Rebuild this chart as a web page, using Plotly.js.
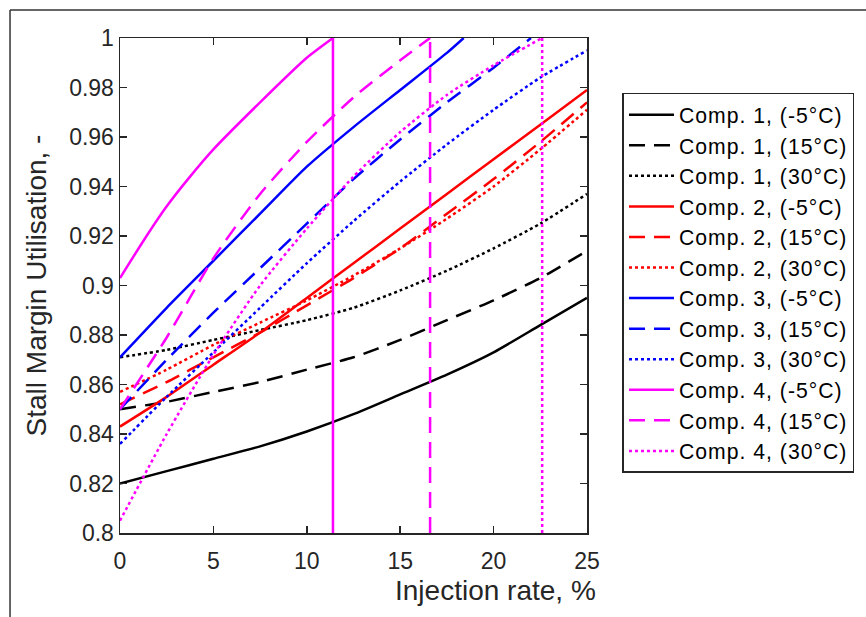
<!DOCTYPE html>
<html>
<head>
<meta charset="utf-8">
<script src="https://cdn.plot.ly/plotly-3.0.1.min.js"></script>
<style>html,body{margin:0;padding:0;background:#fff;}#chart{width:866px;height:617px;}</style>
</head>
<body>
<div id="chart"></div>
<script>
// ---- data ----
var xGrid = [0, 2.5, 5, 7.5, 10, 12.5, 15, 17.5, 20, 22.5, 25];

var comp1_m5  = [0.820, 0.825, 0.830, 0.835, 0.841, 0.848, 0.856, 0.864, 0.873, 0.884, 0.895];
var comp1_p15 = [0.850, 0.853, 0.857, 0.861, 0.866, 0.871, 0.878, 0.886, 0.894, 0.903, 0.914];
var comp1_p30 = [0.871, 0.874, 0.878, 0.882, 0.886, 0.891, 0.898, 0.906, 0.915, 0.925, 0.937];

var comp2_m5  = [0.843, 0.855, 0.868, 0.881, 0.895, 0.909, 0.923, 0.937, 0.951, 0.965, 0.979];
var comp2_p15 = [0.852, 0.861, 0.871, 0.881, 0.892, 0.903, 0.915, 0.929, 0.943, 0.958, 0.974];
var comp2_p30 = [0.857, 0.866, 0.876, 0.885, 0.894, 0.904, 0.915, 0.927, 0.940, 0.955, 0.971];

var comp3_m5_x  = [0, 2.5, 5, 7.5, 10, 12.5, 15, 17.5, 18.4];
var comp3_m5    = [0.871, 0.891, 0.910, 0.929, 0.948, 0.964, 0.979, 0.994, 1.0];
var comp3_p15_x = [0, 2.5, 5, 7.5, 10, 12.5, 15, 17.5, 20, 22];
var comp3_p15   = [0.850, 0.870, 0.889, 0.907, 0.925, 0.943, 0.959, 0.974, 0.988, 1.0];
var comp3_p30   = [0.836, 0.855, 0.873, 0.891, 0.909, 0.926, 0.942, 0.957, 0.971, 0.984, 0.995];

var comp4_m5_x  = [0, 1.25, 2.5, 3.75, 5, 7.5, 10, 11.4];
var comp4_m5    = [0.903, 0.918, 0.932, 0.944, 0.955, 0.974, 0.992, 1.0];
var comp4_p15_x = [0, 2.5, 5, 7.5, 10, 12.5, 15, 16.6];
var comp4_p15   = [0.850, 0.879, 0.911, 0.937, 0.958, 0.976, 0.991, 1.0];
var comp4_p30_x = [0, 2.5, 5, 7.5, 10, 12.5, 15, 17.5, 20, 22.6];
var comp4_p30   = [0.805, 0.840, 0.872, 0.900, 0.923, 0.944, 0.962, 0.977, 0.989, 1.0];

// injection limits of Comp. 4 (vertical lines)
var limitX = [11.4, 16.6, 22.6];
var limitY = [0.8, 1.0];

var legendNames = [
  'Comp. 1, (-5°C)', 'Comp. 1, (15°C)', 'Comp. 1, (30°C)',
  'Comp. 2, (-5°C)', 'Comp. 2, (15°C)', 'Comp. 2, (30°C)',
  'Comp. 3, (-5°C)', 'Comp. 3, (15°C)', 'Comp. 3, (30°C)',
  'Comp. 4, (-5°C)', 'Comp. 4, (15°C)', 'Comp. 4, (30°C)'
];

// ---- styles ----
var colors = ['#000000', '#ff0000', '#0000ff', '#ff00ff'];
var dashes = ['solid', '16px,9px', '3px,3px'];
var LW = 2.5;

var seriesX = [xGrid, xGrid, xGrid, xGrid, xGrid, xGrid,
               comp3_m5_x, comp3_p15_x, xGrid,
               comp4_m5_x, comp4_p15_x, comp4_p30_x];
var seriesY = [comp1_m5, comp1_p15, comp1_p30,
               comp2_m5, comp2_p15, comp2_p30,
               comp3_m5, comp3_p15, comp3_p30,
               comp4_m5, comp4_p15, comp4_p30];

var traces = [];
for (var i = 0; i < seriesY.length; i++) {
  traces.push({
    type: 'scatter', mode: 'lines',
    x: seriesX[i], y: seriesY[i],
    name: '<span style="letter-spacing:1px">' + legendNames[i] + '</span>',
    legendgroup: 'g' + i,
    line: {color: colors[Math.floor(i / 3)], dash: dashes[i % 3], width: LW, shape: 'spline', smoothing: 0.6}
  });
}
for (var k = 0; k < limitX.length; k++) {
  traces.push({
    type: 'scatter', mode: 'lines',
    x: [limitX[k], limitX[k]], y: limitY,
    showlegend: false, legendgroup: 'g' + (9 + k),
    line: {color: colors[3], dash: dashes[k], width: LW}
  });
}

var FONT = '"Liberation Sans", Arial, Helvetica, sans-serif';
var axisCommon = {
  showline: true, linecolor: '#262626', linewidth: 1.5, mirror: 'ticks',
  ticks: 'inside', ticklen: 7, tickwidth: 1.5, tickcolor: '#262626',
  showgrid: false, zeroline: false,
  tickfont: {family: FONT, size: 23, color: '#262626'}
};

var layout = {
  width: 866, height: 617,
  margin: {l: 120, r: 279, t: 38, b: 84},
  paper_bgcolor: '#ffffff', plot_bgcolor: '#ffffff',
  font: {family: FONT, color: '#262626'},
  xaxis: Object.assign({}, axisCommon, {range: [0, 25], dtick: 5, tick0: 0, ticklabelstandoff: 7}),
  yaxis: Object.assign({}, axisCommon, {
    range: [0.8, 1], dtick: 0.02, tick0: 0.8,
    title: {text: 'Stall Margin Utilisation, -', font: {family: FONT, size: 28, color: '#262626'}, standoff: 14}
  }),
  annotations: [{
    xref: 'paper', yref: 'paper', x: 0.805, y: -0.117,
    xanchor: 'center', yanchor: 'middle', showarrow: false,
    text: 'Injection rate, %', font: {family: FONT, size: 28, color: '#262626'}
  }],
  legend: {
    x: 1.076, y: 0.889, xanchor: 'left', yanchor: 'top',
    bordercolor: '#262626', borderwidth: 1.5, bgcolor: '#ffffff',
    font: {family: FONT, size: 21.2, color: '#000000'},
    itemwidth: 45, tracegroupgap: 0
  },
  shapes: [
    {type: 'line', xref: 'paper', yref: 'paper', x0: -0.2355, x1: -0.2355, y0: 1.0566, y1: -0.175, line: {color: '#333333', width: 1.5}},
    {type: 'line', xref: 'paper', yref: 'paper', x0: -0.2355, x1: 1.6, y0: 1.0566, y1: 1.0566, line: {color: '#333333', width: 1.5}}
  ],
  showlegend: true
};

Plotly.newPlot('chart', traces, layout, {displayModeBar: false, staticPlot: true});
</script>
</body>
</html>
